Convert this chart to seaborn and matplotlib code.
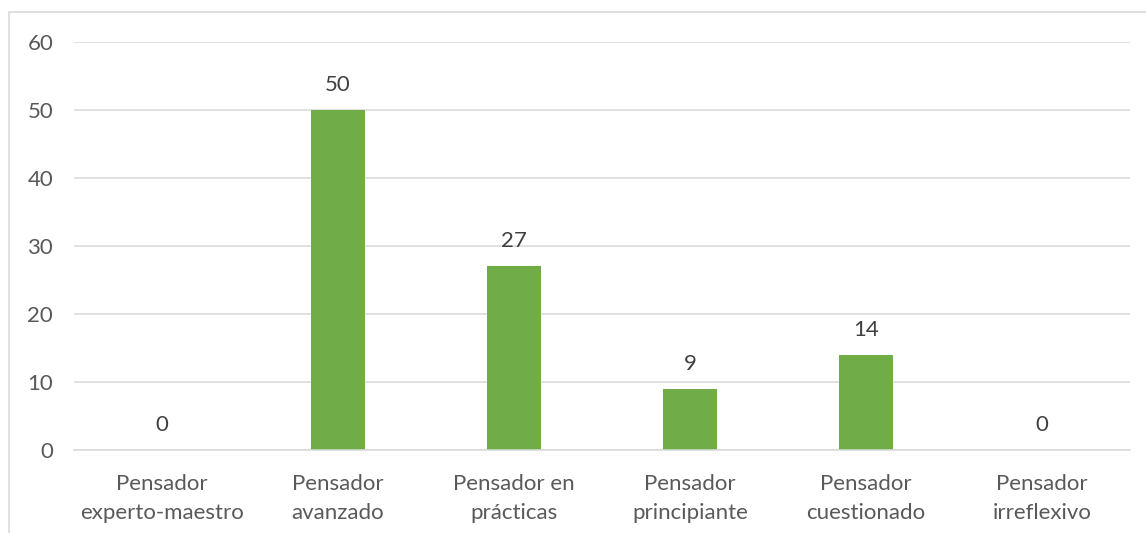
import matplotlib
matplotlib.use("Agg")
import matplotlib.pyplot as plt
import seaborn as sns
import pandas as pd
from matplotlib.patches import Rectangle

categories = ["Pensador\nexperto-maestro", "Pensador\navanzado", "Pensador en\nprácticas",
              "Pensador\nprincipiante", "Pensador\ncuestionado", "Pensador\nirreflexivo"]
values = [0, 50, 27, 9, 14, 0]
yticks = [0, 10, 20, 30, 40, 50, 60]

sns.set_theme(style="white")
plt.rcParams['font.family'] = ['Lato', 'DejaVu Sans']

df = pd.DataFrame({"cat": categories, "val": values})

fig = plt.figure(figsize=(11.46, 5.33), dpi=100)
ax = fig.add_axes([74/1146, 1-450/533, (1130-74)/1146, (450-42)/533])

sns.barplot(data=df, x="cat", y="val", color="#70AD47", width=0.31, saturation=1,
            linewidth=0, ax=ax)

ax.set_ylim(0, 60)
ax.set_yticks(yticks)
ax.set_xlim(-0.5, len(categories)-0.5)
ax.yaxis.grid(True, color="#D9D9D9", linewidth=1.1)
ax.set_axisbelow(True)
for s in ["left", "right", "top"]:
    ax.spines[s].set_visible(False)
ax.spines["bottom"].set_color("#D9D9D9")
ax.spines["bottom"].set_linewidth(1.1)
ax.set_xlabel("")
ax.set_ylabel("")
ax.tick_params(axis="y", length=0, pad=15, labelsize=16, labelcolor="#595959")
ax.tick_params(axis="x", length=0, pad=17, labelsize=16, labelcolor="#595959")
for lbl in ax.get_xticklabels():
    lbl.set_linespacing(1.6)

for i, v in enumerate(values):
    ax.annotate(str(v), (i, v), xytext=(0, 18), textcoords="offset points",
                ha="center", va="center", fontsize=16, color="#404040")

fig.patches.append(Rectangle((9/1146, -0.1), 1.2, 1-12/533+0.1, transform=fig.transFigure,
                             fill=False, edgecolor="#D9D9D9", linewidth=1.2))

fig.savefig("out.png", dpi=100, facecolor="white")
